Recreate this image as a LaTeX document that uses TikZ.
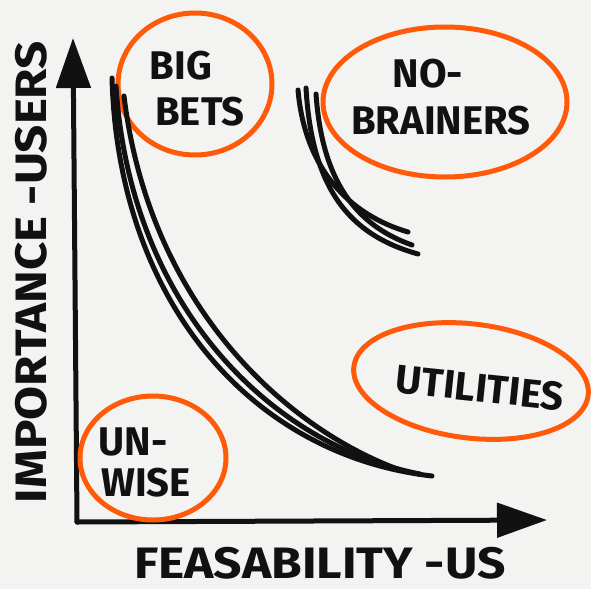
\documentclass[tikz,border=0pt]{standalone}
\usepackage{fontspec}
\setmainfont{Fira Sans}
\usetikzlibrary{arrows.meta,shapes.geometric}
\definecolor{paper}{HTML}{F3F3F2}
\definecolor{pen}{HTML}{111111}
\definecolor{hl}{HTML}{FF5A0A}
\tikzset{
  axis/.style={draw=pen, line width=5pt, line cap=round, line join=round, -{Triangle[length=50pt,width=34pt]}},
  stroke/.style={draw=pen, line width=5pt, line cap=round},
  ring/.style={draw=hl, line width=5pt, ellipse, inner sep=0pt},
  lbl/.style={text=pen, font=\bfseries\fontsize{40}{40}\selectfont, inner sep=0pt},
  axlbl/.style={text=pen, font=\bfseries\fontsize{44}{44}\selectfont, inner sep=0pt},
}
\begin{document}
\begin{tikzpicture}[x=1pt,y=-1pt]
\fill[paper] (0,0) rectangle (591,589);
\useasboundingbox (0,0) rectangle (591,589);
% axes
\coordinate (origin) at (77,522);
\coordinate (ytip) at (73,38);
\coordinate (xtip) at (547,520);
\draw[axis] (origin) -- (ytip);
\draw[axis] (origin) -- (xtip);
\node[axlbl, rotate=90, xscale=1.12] (ylab) at (31,272) {IMPORTANCE -USERS};
\node[axlbl, xscale=1.13] (xlab) at (320,563) {FEASABILITY -US};
% orange rings
\node[ring, minimum width=154pt, minimum height=142pt] (bigbets) at (195,84) {};
\node[ring, minimum width=244pt, minimum height=150pt] (nobrainers) at (445,102) {};
\node[ring, minimum width=146pt, minimum height=124pt] (unwise) at (153,458) {};
\node[ring, minimum width=236pt, minimum height=114pt, rotate=-7] (utilities) at (471,381) {};
% labels
\node[lbl] (big) at (181,66) {BIG};
\node[lbl] (bets) at (200,112) {BETS};
\node[lbl] (no) at (428,74) {NO-};
\node[lbl] (brainers) at (441,121) {BRAINERS};
\node[lbl] (un) at (133,442) {UN-};
\node[lbl] (wise) at (146,483) {WISE};
\node[lbl, rotate=-6] (util) at (480,388) {UTILITIES};
% big curve strokes
\coordinate (b1s) at (112,78);
\coordinate (b1e) at (432,476);
\coordinate (b2s) at (124,96);
\coordinate (b2e) at (400,470);
\coordinate (b3s) at (116,86);
\coordinate (b3e) at (420,474);
\draw[stroke] (b1s) .. controls (118,300) and (250,455) .. (b1e);
\draw[stroke] (b2s) .. controls (150,310) and (290,430) .. (b2e);
\draw[stroke] (b3s) .. controls (130,305) and (270,445) .. (b3e);
% small curve strokes
\coordinate (s1s) at (298,90);
\coordinate (s1e) at (408,232);
\coordinate (s2s) at (306,88);
\coordinate (s2e) at (418,254);
\coordinate (s3s) at (316,94);
\coordinate (s3e) at (412,245);
\draw[stroke] (s1s) .. controls (305,170) and (350,215) .. (s1e);
\draw[stroke] (s2s) .. controls (312,190) and (350,235) .. (s2e);
\draw[stroke] (s3s) .. controls (322,180) and (355,225) .. (s3e);
\end{tikzpicture}
\end{document}
